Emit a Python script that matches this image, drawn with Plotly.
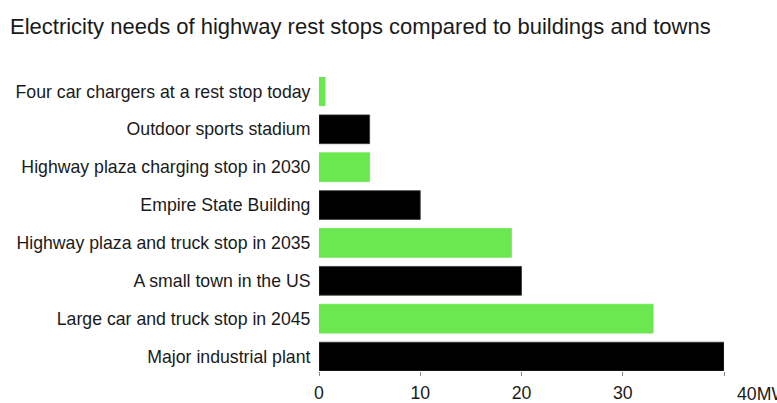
import plotly.graph_objects as go

# Power demand, in megawatts
categories = [
    "Four car chargers at a rest stop today",
    "Outdoor sports stadium",
    "Highway plaza charging stop in 2030",
    "Empire State Building",
    "Highway plaza and truck stop in 2035",
    "A small town in the US",
    "Large car and truck stop in 2045",
    "Major industrial plant",
]
megawatts = [0.6, 5, 5, 10, 19, 20, 33, 40]
kinds = ["rest stop", "benchmark", "rest stop", "benchmark",
         "rest stop", "benchmark", "rest stop", "benchmark"]

tick_values = [0, 10, 20, 30, 40]
tick_labels = ["0", "10", "20", "30", ""]
unit_label = "40MW"

palette = {"rest stop": "#6be74f", "benchmark": "#000000"}
bar_colors = [palette[k] for k in kinds]
edge_colors = ["#6be74f" if k == "rest stop" else "#3a3a3a" for k in kinds]

FONT = "Liberation Sans, Arial, Helvetica, sans-serif"
TEXT = "#1a1a1a"
LABEL_SIZE = 17.7

fig = go.Figure(
    go.Bar(
        x=megawatts,
        y=categories,
        orientation="h",
        marker=dict(color=bar_colors, line=dict(color=edge_colors, width=0.8)),
        hoverinfo="x+y",
    )
)

# Last x tick carries the unit and sits just right of its tick
fig.add_annotation(
    x=tick_values[-1], y=0, xref="x", yref="paper",
    text=unit_label, showarrow=False,
    xanchor="left", yanchor="middle", xshift=11, yshift=-23,
    font=dict(family=FONT, size=LABEL_SIZE, color=TEXT),
)

fig.update_layout(
    width=777,
    height=403,
    margin=dict(l=319, r=53, t=77, b=32, autoexpand=False),
    paper_bgcolor="white",
    plot_bgcolor="white",
    bargap=0.24,
    showlegend=False,
    title=dict(
        text="Electricity needs of highway rest stops compared to buildings and towns",
        x=10 / 777, xanchor="left", xref="container",
        y=1 - 26 / 403, yanchor="middle", yref="container",
        font=dict(family=FONT, size=22, color=TEXT),
    ),
    font=dict(family=FONT, size=LABEL_SIZE, color=TEXT),
)

fig.update_xaxes(
    range=[0, 40],
    tickvals=tick_values,
    ticktext=tick_labels,
    ticks="outside",
    ticklen=4,
    tickcolor="#888888",
    tickwidth=1,
    ticklabelstandoff=2,
    automargin=False,
    showgrid=False,
    zeroline=False,
    showline=False,
    tickfont=dict(family=FONT, size=LABEL_SIZE, color=TEXT),
    fixedrange=True,
)

fig.update_yaxes(
    range=[len(categories) - 1 + 0.38, -0.38],
    ticks="outside",
    ticklen=4,
    tickcolor="rgba(0,0,0,0)",
    automargin=False,
    showgrid=False,
    zeroline=False,
    showline=False,
    tickfont=dict(family=FONT, size=LABEL_SIZE, color=TEXT),
    fixedrange=True,
)

fig.write_html("out.html")
